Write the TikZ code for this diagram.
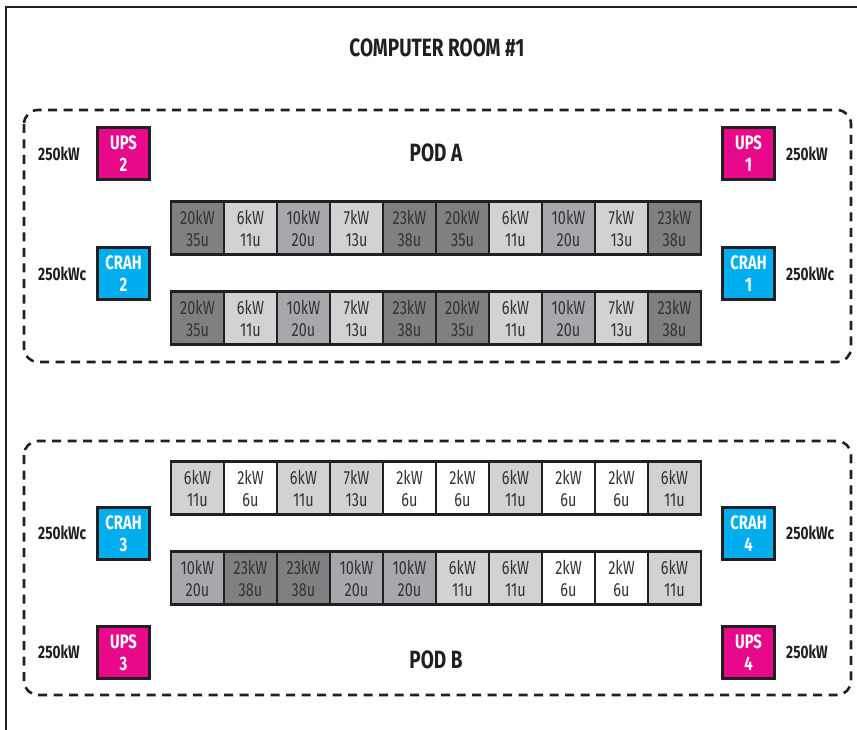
\documentclass[tikz,border=0pt]{standalone}
\usepackage{fontspec}
\setmainfont{Fira Sans}[FakeStretch=0.76]
\definecolor{upsmag}{HTML}{E8088A}
\definecolor{crahcyan}{HTML}{00AEEF}
\definecolor{rdark}{HTML}{808083}
\definecolor{rmed}{HTML}{A7A8AB}
\definecolor{rlight}{HTML}{D1D2D4}
\definecolor{rwhite}{HTML}{FFFFFF}
\definecolor{txt}{HTML}{231F20}
\definecolor{racktxt}{HTML}{333335}
\begin{document}
\begin{tikzpicture}[x=1pt,y=-1pt,
  roomline/.style={line width=2pt,draw=txt},
  podline/.style={line width=2.6pt,draw=txt,dash pattern=on 9pt off 6.5pt,rounded corners=14pt},
  equip/.style={draw=txt,line width=2.6pt,minimum width=52pt,minimum height=52pt,inner sep=0pt,
    text=white,font=\fontsize{19.5}{21.5}\selectfont\bfseries,align=center},
  ups/.style={equip,fill=upsmag},
  crah/.style={equip,fill=crahcyan},
  rack/.style={draw=txt,line width=2.6pt,minimum width=53pt,minimum height=53pt,inner sep=0pt,
    text=racktxt,font=\fontsize{19}{22}\selectfont,align=center},
  pwrlabel/.style={text=txt,font=\fontsize{18}{20}\selectfont\bfseries,inner sep=0pt},
  bigtitle/.style={text=txt,font=\fontsize{25}{28}\selectfont\bfseries,inner sep=0pt},
  rD/.style={fill=rdark},rM/.style={fill=rmed},rL/.style={fill=rlight},rW/.style={fill=rwhite}]
\useasboundingbox (0,0) rectangle (857,730);
% room outline
\coordinate (rbl) at (6,735);
\coordinate (rtl) at (6,7);
\coordinate (rtr) at (862,7);
\draw[roomline] (rbl) -- (rtl) -- (rtr);
\node[bigtitle] (room) at (437,48) {COMPUTER ROOM \#1};
% pods
\draw[podline] (24,110) rectangle (851,362);
\draw[podline] (24,441) rectangle (851,695);
\node[bigtitle] (poda) at (436,153) {POD A};
\node[bigtitle] (podb) at (436,660) {POD B};
% equipment pod A
\node[ups] (ups2) at (123.5,153.5) {UPS\\2};
\node[crah] (crah2) at (123.5,273.5) {CRAH\\2};
\node[ups] (ups1) at (748.5,153.5) {UPS\\1};
\node[crah] (crah1) at (748.5,273.5) {CRAH\\1};
\node[pwrlabel,anchor=west] (l1) at (38,154) {250kW};
\node[pwrlabel,anchor=west] (l2) at (38,274) {250kWc};
\node[pwrlabel,anchor=west] (l3) at (786,154) {250kW};
\node[pwrlabel,anchor=west] (l4) at (786,274) {250kWc};
% equipment pod B
\node[crah] (crah3) at (123.5,533.5) {CRAH\\3};
\node[ups] (ups3) at (123.5,652.5) {UPS\\3};
\node[crah] (crah4) at (748.5,533.5) {CRAH\\4};
\node[ups] (ups4) at (748.5,652.5) {UPS\\4};
\node[pwrlabel,anchor=west] (l5) at (38,533) {250kWc};
\node[pwrlabel,anchor=west] (l6) at (38,652) {250kW};
\node[pwrlabel,anchor=west] (l7) at (786,533) {250kWc};
\node[pwrlabel,anchor=west] (l8) at (786,652) {250kW};
% racks
\foreach \rw/\yy/\lst in {
  a1/228/{rD/20/35,rL/6/11,rM/10/20,rL/7/13,rD/23/38,rD/20/35,rL/6/11,rM/10/20,rL/7/13,rD/23/38},
  a2/318/{rD/20/35,rL/6/11,rM/10/20,rL/7/13,rD/23/38,rD/20/35,rL/6/11,rM/10/20,rL/7/13,rD/23/38},
  b1/488/{rL/6/11,rW/2/6,rL/6/11,rL/7/13,rW/2/6,rW/2/6,rL/6/11,rW/2/6,rW/2/6,rL/6/11},
  b2/578/{rM/10/20,rD/23/38,rD/23/38,rM/10/20,rM/10/20,rL/6/11,rL/6/11,rW/2/6,rW/2/6,rL/6/11}}{
  \foreach \st/\kw/\uu [count=\i] in \lst {
    \node[rack,\st] (\rw-\i) at ({171+53*(\i-0.5)},\yy) {\kw kW\\\uu u};
  }
}
\end{tikzpicture}
\end{document}
